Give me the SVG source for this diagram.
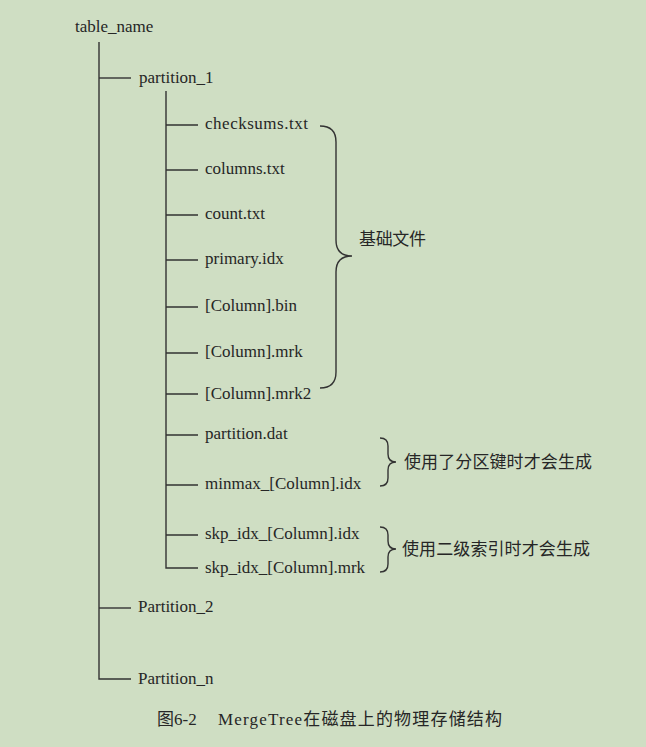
<svg xmlns="http://www.w3.org/2000/svg" width="646" height="747" viewBox="0 0 646 747">
<style>
.t{font-family:"Liberation Serif","Noto Sans CJK SC",serif;font-size:17px;fill:#262626}
.c{font-family:"Noto Sans CJK SC",sans-serif;font-size:17px;fill:#262626}
.l{stroke:#333;stroke-width:1.4;fill:none}
</style>
<rect width="646" height="747" fill="#cfdec3"/>
<g id="connectors" class="l">
<path d="M99,42 V679 H131"/>
<path d="M99,78 H131"/>
<path d="M99,608 H131"/>
<path d="M166,91 V568 H198"/>
<path d="M166,125 H198 M166,170 H198 M166,215 H198 M166,260 H198 M166,307 H198 M166,353 H198 M166,394 H198 M166,435 H198 M166,485 H198 M166,535 H198"/>
</g>
<g id="braces" class="l">
<path d="M320,126 Q336,126 336,142 L336,240 Q336,256 352,256 Q336,256 336,272 L336,372 Q336,388 320,388"/>
<path d="M380,438 Q388,438 388,446 L388,454 Q388,462 396,462 Q388,462 388,470 L388,478 Q388,486 380,486"/>
<path d="M380,527 Q388,527 388,535 L388,541 Q388,549 396,549 Q388,549 388,557 L388,564 Q388,572 380,572"/>
</g>
<g id="table_name"><text class="t" x="75" y="32">table_name</text></g>
<g id="partition_1"><text class="t" x="139" y="83">partition_1</text></g>
<g id="checksums"><text class="t" x="205" y="129" textLength="103">checksums.txt</text></g>
<g id="columns"><text class="t" x="205" y="174">columns.txt</text></g>
<g id="count"><text class="t" x="205" y="219">count.txt</text></g>
<g id="primary"><text class="t" x="205" y="264">primary.idx</text></g>
<g id="colbin"><text class="t" x="205" y="311">[Column].bin</text></g>
<g id="colmrk"><text class="t" x="205" y="357">[Column].mrk</text></g>
<g id="colmrk2"><text class="t" x="205" y="399">[Column].mrk2</text></g>
<g id="partdat"><text class="t" x="205" y="439">partition.dat</text></g>
<g id="minmax"><text class="t" x="205" y="489">minmax_[Column].idx</text></g>
<g id="skpidx"><text class="t" x="205" y="539">skp_idx_[Column].idx</text></g>
<g id="skpmrk"><text class="t" x="205" y="573">skp_idx_[Column].mrk</text></g>
<g id="partition_2"><text class="t" x="138" y="612">Partition_2</text></g>
<g id="partition_n"><text class="t" x="138" y="684">Partition_n</text></g>
<g id="label_basic"><text class="c" x="359" y="245" textLength="67">基础文件</text></g>
<g id="label_partkey"><text class="c" x="404" y="468" textLength="188">使用了分区键时才会生成</text></g>
<g id="label_skip"><text class="c" x="402" y="555" textLength="188">使用二级索引时才会生成</text></g>
<g id="caption"><text class="t" x="157" y="725">图6-2</text><text class="t" x="218" y="725" textLength="284">MergeTree在磁盘上的物理存储结构</text></g>
</svg>
